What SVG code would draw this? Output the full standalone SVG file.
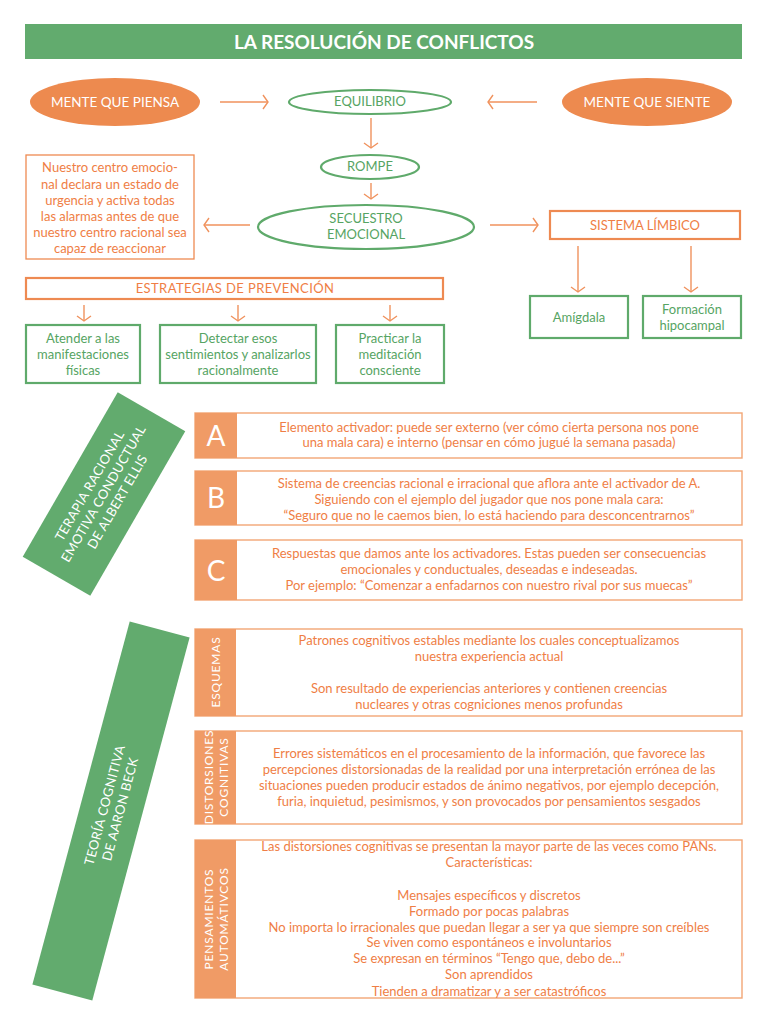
<svg xmlns="http://www.w3.org/2000/svg" width="768" height="1024" viewBox="0 0 768 1024">
<defs>
<style>
text{font-family:Lato,"Open Sans","Liberation Sans",sans-serif;text-anchor:middle}
.o{fill:#EF7E45;font-size:13px}
.g{fill:#56A463;font-size:13px}
.w{fill:#ffffff}
.obox{fill:#ffffff;stroke:#EE8A52;stroke-width:1.3}
.obox2{fill:#ffffff;stroke:#EE8A52;stroke-width:2.2}
.gbox{fill:#ffffff;stroke:#5FAA6B;stroke-width:2.2}
.lbox{fill:#ffffff;stroke:#F2A675;stroke-width:1.4}
.side{fill:#F09B66}
.gfill{fill:#62AB6E}
.ofill{fill:#ED8A4F}
.con{stroke:#F0925D;stroke-width:1.4;fill:none;marker-end:url(#ah)}
</style>
<marker id="ah" markerUnits="userSpaceOnUse" markerWidth="14" markerHeight="16" refX="10" refY="8" orient="auto">
<path d="M5,1 L10,8 L5,15" fill="none" stroke="#F0925D" stroke-width="1.4"/>
</marker>
</defs>
<rect width="768" height="1024" fill="#ffffff"/>

<g id="title">
<rect class="gfill" x="25" y="24" width="717" height="35"/>
<text class="w" x="384" y="49" font-size="19" font-weight="bold">LA RESOLUCIÓN DE CONFLICTOS</text>
</g>

<g id="connectors">
<line class="con" x1="220" y1="102" x2="268" y2="102"/>
<line class="con" x1="537" y1="102" x2="488" y2="102"/>
<line class="con" x1="371" y1="118" x2="371" y2="148"/>
<line class="con" x1="371" y1="183" x2="371" y2="199"/>
<line class="con" x1="250" y1="225" x2="204" y2="225"/>
<line class="con" x1="490" y1="225" x2="538" y2="225"/>
<line class="con" x1="578" y1="246" x2="578" y2="292"/>
<line class="con" x1="691" y1="246" x2="691" y2="292"/>
<line class="con" x1="84" y1="305" x2="84" y2="321"/>
<line class="con" x1="238" y1="305" x2="238" y2="321"/>
<line class="con" x1="390" y1="305" x2="390" y2="321"/>
</g>

<g id="mente-piensa">
<ellipse class="ofill" cx="115" cy="102" rx="85" ry="24"/>
<text class="w" x="115" y="107" font-size="13.5">MENTE QUE PIENSA</text>
</g>
<g id="equilibrio">
<ellipse cx="370" cy="102" rx="81" ry="12" fill="#ffffff" stroke="#5FAA6B" stroke-width="2.2"/>
<text class="g" x="370" y="106" font-size="12">EQUILIBRIO</text>
</g>
<g id="mente-siente">
<ellipse class="ofill" cx="647" cy="102" rx="85" ry="24"/>
<text class="w" x="647" y="107" font-size="13.5">MENTE QUE SIENTE</text>
</g>
<g id="rompe">
<ellipse cx="370" cy="167" rx="49" ry="12" fill="#ffffff" stroke="#5FAA6B" stroke-width="2.2"/>
<text class="g" x="370" y="171" font-size="12">ROMPE</text>
</g>
<g id="secuestro">
<ellipse cx="366" cy="227" rx="108" ry="22" fill="#ffffff" stroke="#5FAA6B" stroke-width="2.2"/>
<text class="g" x="366" y="223" font-size="12.5">SECUESTRO</text>
<text class="g" x="366" y="239" font-size="12.5">EMOCIONAL</text>
</g>
<g id="centro-emocional">
<rect class="obox" x="26" y="155" width="168" height="104"/>
<text class="o" x="110" y="172">Nuestro centro emocio-</text>
<text class="o" x="110" y="189">nal declara un estado de</text>
<text class="o" x="110" y="205">urgencia y activa todas</text>
<text class="o" x="110" y="221">las alarmas antes de que</text>
<text class="o" x="110" y="237">nuestro centro racional sea</text>
<text class="o" x="110" y="253">capaz de reaccionar</text>
</g>
<g id="sistema-limbico">
<rect class="obox2" x="550" y="211" width="190" height="28"/>
<text class="o" x="645" y="230">SISTEMA LÍMBICO</text>
</g>
<g id="amigdala">
<rect class="gbox" x="530" y="296" width="98" height="42"/>
<text class="g" x="579" y="322">Amígdala</text>
</g>
<g id="hipocampal">
<rect class="gbox" x="643" y="296" width="98" height="42"/>
<text class="g" x="692" y="314">Formación</text>
<text class="g" x="692" y="330">hipocampal</text>
</g>
<g id="estrategias">
<rect class="obox2" x="26" y="278" width="417" height="21"/>
<text class="o" x="235" y="293" font-size="12.5" letter-spacing="0.4">ESTRATEGIAS DE PREVENCIÓN</text>
</g>
<g id="atender">
<rect class="gbox" x="26" y="325" width="114" height="58"/>
<text class="g" x="83" y="343">Atender a las</text>
<text class="g" x="83" y="359">manifestaciones</text>
<text class="g" x="83" y="375">físicas</text>
</g>
<g id="detectar">
<rect class="gbox" x="160" y="325" width="156" height="58"/>
<text class="g" x="238" y="343">Detectar esos</text>
<text class="g" x="238" y="359">sentimientos y analizarlos</text>
<text class="g" x="238" y="375">racionalmente</text>
</g>
<g id="meditacion">
<rect class="gbox" x="336" y="325" width="108" height="58"/>
<text class="g" x="390" y="343">Practicar la</text>
<text class="g" x="390" y="359">meditación</text>
<text class="g" x="390" y="375">consciente</text>
</g>

<g id="ellis">
<rect class="gfill" x="-39" y="-95" width="78" height="190" transform="translate(104,494) rotate(30)"/>
<g transform="translate(104,494) rotate(-60)" font-size="13" letter-spacing="0.3">
<text class="w" x="0" y="-12">TERAPIA RACIONAL</text>
<text class="w" x="0" y="4">EMOTIVA CONDUCTUAL</text>
<text class="w" x="0" y="20">DE ALBERT ELLIS</text>
</g>
</g>

<g id="row-a">
<rect class="lbox" x="195" y="413" width="547" height="45"/>
<rect class="side" x="195" y="413" width="42" height="45"/>
<text class="w" x="216" y="446" font-size="28">A</text>
<text class="o" x="489" y="432">Elemento activador: puede ser externo (ver cómo cierta persona nos pone</text>
<text class="o" x="489" y="447">una mala cara) e interno (pensar en cómo jugué la semana pasada)</text>
</g>
<g id="row-b">
<rect class="lbox" x="195" y="471" width="547" height="54"/>
<rect class="side" x="195" y="471" width="42" height="54"/>
<text class="w" x="216" y="508" font-size="28">B</text>
<text class="o" x="489" y="488">Sistema de creencias racional e irracional que aflora ante el activador de A.</text>
<text class="o" x="489" y="504">Siguiendo con el ejemplo del jugador que nos pone mala cara:</text>
<text class="o" x="489" y="520">“Seguro que no le caemos bien, lo está haciendo para desconcentrarnos”</text>
</g>
<g id="row-c">
<rect class="lbox" x="195" y="540" width="547" height="60"/>
<rect class="side" x="195" y="540" width="42" height="60"/>
<text class="w" x="216" y="581" font-size="28">C</text>
<text class="o" x="489" y="558">Respuestas que damos ante los activadores. Estas pueden ser consecuencias</text>
<text class="o" x="489" y="574">emocionales y conductuales, deseadas e indeseadas.</text>
<text class="o" x="489" y="590">Por ejemplo: “Comenzar a enfadarnos con nuestro rival por sus muecas”</text>
</g>

<g id="beck">
<rect class="gfill" x="-31" y="-188" width="62" height="376" transform="translate(111,811) rotate(15)"/>
<g transform="translate(112,807) rotate(-75)" font-size="13" letter-spacing="0.3">
<text class="w" x="0" y="-3">TEORÍA COGNITIVA</text>
<text class="w" x="0" y="13">DE AARON BECK</text>
</g>
</g>

<g id="esquemas">
<rect class="lbox" x="195" y="629" width="547" height="87"/>
<rect class="side" x="195" y="629" width="41" height="87"/>
<text class="w" transform="translate(220,672) rotate(-90)" font-size="12" letter-spacing="0.8">ESQUEMAS</text>
<text class="o" x="489" y="645">Patrones cognitivos estables mediante los cuales conceptualizamos</text>
<text class="o" x="489" y="661">nuestra experiencia actual</text>
<text class="o" x="489" y="693">Son resultado de experiencias anteriores y contienen creencias</text>
<text class="o" x="489" y="709">nucleares y otras cogniciones menos profundas</text>
</g>
<g id="distorsiones">
<rect class="lbox" x="195" y="731" width="547" height="93"/>
<rect class="side" x="195" y="731" width="41" height="93"/>
<g transform="translate(216,777) rotate(-90)" font-size="12" letter-spacing="0.8">
<text class="w" x="0" y="-3">DISTORSIONES</text>
<text class="w" x="0" y="12">COGNITIVAS</text>
</g>
<text class="o" x="489" y="758">Errores sistemáticos en el procesamiento de la información, que favorece las</text>
<text class="o" x="489" y="774">percepciones distorsionadas de la realidad por una interpretación errónea de las</text>
<text class="o" x="489" y="790">situaciones pueden producir estados de ánimo negativos, por ejemplo decepción,</text>
<text class="o" x="489" y="806">furia, inquietud, pesimismos, y son provocados por pensamientos sesgados</text>
</g>
<g id="pensamientos">
<rect class="lbox" x="195" y="840" width="547" height="158"/>
<rect class="side" x="195" y="840" width="41" height="158"/>
<g transform="translate(216,919) rotate(-90)" font-size="12" letter-spacing="0.8">
<text class="w" x="0" y="-3">PENSAMIENTOS</text>
<text class="w" x="0" y="12">AUTOMÁTIVCOS</text>
</g>
<text class="o" x="489" y="851">Las distorsiones cognitivas se presentan la mayor parte de las veces como PANs.</text>
<text class="o" x="489" y="867">Características:</text>
<text class="o" x="489" y="900">Mensajes específicos y discretos</text>
<text class="o" x="489" y="916">Formado por pocas palabras</text>
<text class="o" x="489" y="932">No importa lo irracionales que puedan llegar a ser ya que siempre son creíbles</text>
<text class="o" x="489" y="947">Se viven como espontáneos e involuntarios</text>
<text class="o" x="489" y="963">Se expresan en términos “Tengo que, debo de...”</text>
<text class="o" x="489" y="979">Son aprendidos</text>
<text class="o" x="489" y="996">Tienden a dramatizar y a ser catastróficos</text>
</g>
</svg>
